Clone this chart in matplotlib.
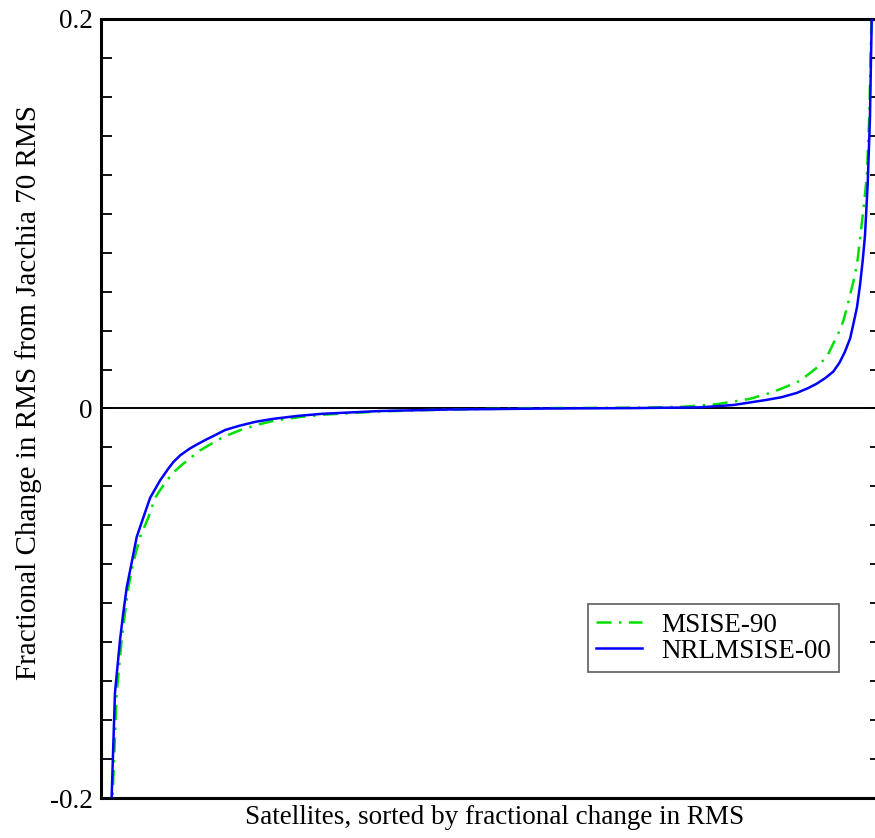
import numpy as np
import matplotlib
matplotlib.use('Agg')
import matplotlib.pyplot as plt

plt.rcParams['font.family'] = ['Liberation Serif', 'DejaVu Serif']
plt.rcParams['axes.unicode_minus'] = False

# satellites sorted, position as percent of the sorted list
nrl_x = [0.0, 0.52, 1.18, 1.61, 2.06, 2.72, 3.37, 4.24, 5.12, 6.43, 7.5, 8.18,
         9.1, 10.37, 11.5, 12.56, 13.4, 15.0, 16.9, 19.0, 21.3, 24.5, 27.8,
         35.3, 44.5, 57.6, 68.5, 77.3, 81.7, 86.0, 88.0, 90.0, 91.5, 92.6,
         93.8, 94.8, 95.6, 96.3, 97.0, 97.4, 97.9, 98.3, 98.65, 98.95, 99.3,
         99.6, 99.83, 100.0]
nrl_y = [-0.21, -0.146, -0.119, -0.105, -0.092, -0.079, -0.066, -0.056, -0.046,
         -0.037, -0.031, -0.0275, -0.024, -0.0205, -0.018, -0.0158, -0.0142,
         -0.011, -0.0088, -0.0068, -0.0053, -0.0038, -0.0027, -0.0013,
         -0.0005, 0.0, 0.0002, 0.0006, 0.0018, 0.0044, 0.0058, 0.008, 0.0105,
         0.0127, 0.0158, 0.019, 0.0235, 0.029, 0.036, 0.043, 0.052, 0.0635,
         0.076, 0.089, 0.115, 0.149, 0.2, 0.23]

msis_x = [0.1, 0.75, 1.4, 1.84, 2.27, 2.93, 3.81, 4.9, 5.77, 6.43, 7.31, 8.3,
          9.28, 10.4, 11.7, 13.0, 14.8, 16.9, 19.0, 21.3, 24.5, 27.8, 35.3,
          44.5, 57.6, 70.7, 75.1, 79.5, 83.9, 86.5, 88.2, 90.4, 92.5, 94.0,
          94.75, 95.5, 96.1, 96.6, 97.1, 97.6, 98.0, 98.5, 98.9, 99.2, 99.5,
          99.8, 100.0]
msis_y = [-0.21, -0.146, -0.119, -0.105, -0.092, -0.079, -0.066, -0.056, -0.046,
          -0.042, -0.037, -0.0325, -0.029, -0.0255, -0.0215, -0.0185, -0.0145,
          -0.0112, -0.0085, -0.0064, -0.0045, -0.0032, -0.0015, -0.0005,
          0.0002, 0.0005, 0.0009, 0.0022, 0.005, 0.008, 0.0105, 0.0142, 0.0205,
          0.027, 0.033, 0.039, 0.045, 0.052, 0.06, 0.068, 0.077, 0.094, 0.108,
          0.12, 0.149, 0.2, 0.23]

ytick_vals = [-0.2, 0, 0.2]
ytick_text = ['-0.2', '0', '0.2']

W, H = 875, 838
fig = plt.figure(figsize=(W / 100, H / 100), dpi=100)
ax = fig.add_axes([101 / W, (H - 798) / H, (881 - 101) / W, (798 - 19) / H])

ax.axhline(0, color='black', lw=1.4, zorder=1)
ax.plot(msis_x, msis_y, color='#00e000', lw=1.8, dashes=(6, 3, 1, 3),
        label='MSISE-90', zorder=2)
ax.plot(nrl_x, nrl_y, color='#0000ff', lw=1.8, label='NRLMSISE-00', zorder=3)

ax.set_xlim((101 - 111) / 7.62, (881 - 111) / 7.62)
ax.set_ylim(-0.2, 0.2)
ax.set_xticks([])
ax.set_yticks(ytick_vals)
ax.set_yticklabels(ytick_text, fontsize=19.5)
ax.set_yticks(np.arange(-0.18, 0.19, 0.02), minor=True)
ax.tick_params(axis='y', which='both', direction='in', left=True, right=True,
               length=8, width=1.3, pad=6)
for s in ax.spines.values():
    s.set_linewidth(2.2)

ax.set_xlabel('Satellites, sorted by fractional change in RMS', fontsize=19.5)
ax.xaxis.set_label_coords(0.504, -0.009)
ax.set_ylabel('Fractional Change in RMS from Jacchia 70 RMS', fontsize=21)
ax.yaxis.set_label_coords(-0.076, 0.521)

leg = ax.legend(loc='lower right', bbox_to_anchor=((839 - 101) / 780, (798 - 672) / 779),
                fontsize=19.5, frameon=True, fancybox=False, borderpad=0.3,
                handlelength=1.7, handletextpad=0.7, labelspacing=0.05,
                borderaxespad=0)
leg.get_frame().set_edgecolor('#444444')
leg.get_frame().set_linewidth(1.3)

fig.savefig('out.png', dpi=100)
